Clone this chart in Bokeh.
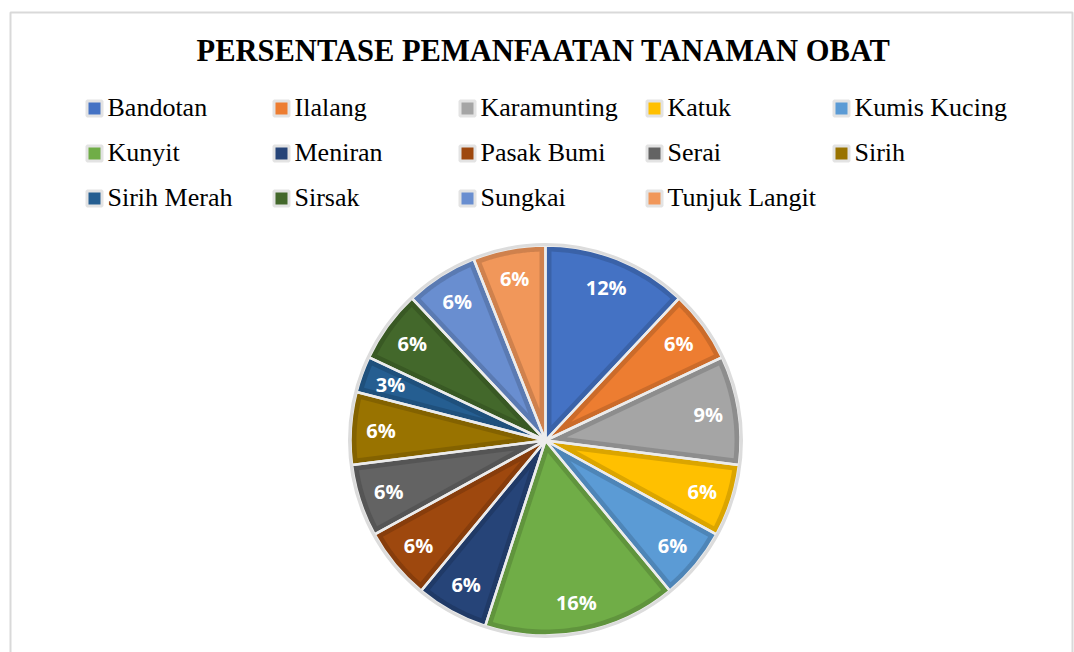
import math
from bokeh.plotting import figure
from bokeh.models import Range1d
from bokeh.core.properties import value
from bokeh.embed import file_html
from bokeh.resources import INLINE

# ---- data ----
categories = ["Bandotan", "Ilalang", "Karamunting", "Katuk", "Kumis Kucing",
              "Kunyit", "Meniran", "Pasak Bumi", "Serai", "Sirih",
              "Sirih Merah", "Sirsak", "Sungkai", "Tunjuk Langit"]
percents = [12, 6, 9, 6, 6, 16, 6, 6, 6, 6, 3, 6, 6, 6]
colors = ["#4472C4", "#ED7D31", "#A5A5A5", "#FFC000", "#5B9BD5", "#70AD47",
          "#264478", "#9E480E", "#636363", "#997300", "#255E91", "#43682B",
          "#698ED0", "#F1975A"]
title_text = "PERSENTASE PEMANFAATAN TANAMAN OBAT"

W, H = 1074, 652
p = figure(width=W, height=H, x_range=Range1d(0, W), y_range=Range1d(0, H),
           output_backend="svg", toolbar_location=None, min_border=0)
p.axis.visible = False
p.grid.visible = False
p.outline_line_color = None
p.background_fill_color = "white"
p.border_fill_color = "white"

def Y(s):
    return H - s

# chart border
p.quad(left=[10], right=[1072], top=[Y(12)], bottom=[-10], fill_color=None,
       line_color="#d9d9d9", line_width=2)

# title
p.text(x=[543], y=[Y(50)], text=[title_text], text_align="center",
       text_baseline="alphabetic", text_font=value("Liberation Serif"),
       text_font_style="bold", text_font_size="30.5px", text_color="#000000")

# legend (manual grid: 5 columns x 3 rows)
col_x = [85, 272, 458, 645, 832]
row_base = [116, 161, 206]
for i, (name, c) in enumerate(zip(categories, colors)):
    r, k = divmod(i, 5)
    mx = col_x[k] + 9
    p.scatter(x=[mx], y=[Y(row_base[r] - 8)], marker="square", size=15,
              fill_color=c, line_color="#e3e3e3", line_width=3)
    p.text(x=[col_x[k] + 22], y=[Y(row_base[r] - 9)], text=[name],
           text_align="left", text_baseline="alphabetic",
           text_font=value("Liberation Serif"), text_font_size="26px",
           text_color="#000000")

# pie
cx, cy, R = 545, Y(440), 195
total = float(sum(percents))

def darker(hexc, f=0.86):
    h = hexc.lstrip("#")
    rgb = [int(h[j:j + 2], 16) for j in (0, 2, 4)]
    return "#%02x%02x%02x" % tuple(int(v * f) for v in rgb)

starts, ends = [], []
cum = 0.0
for v in percents:
    starts.append(math.pi / 2 - 2 * math.pi * cum / total)
    cum += v
    ends.append(math.pi / 2 - 2 * math.pi * cum / total)

# dark base wedges (bevel band)
p.wedge(x=cx, y=cy, radius=R, start_angle=starts, end_angle=ends,
        direction="clock", fill_color=[darker(c) for c in colors],
        line_color=None)

# inset lighter patches
d = 6.0
xs, ys = [], []
for a0, a1 in zip(starts, ends):
    half = (a0 - a1) / 2
    mid = (a0 + a1) / 2
    apex = d / math.sin(half)
    px = [cx + apex * math.cos(mid)]
    py = [cy + apex * math.sin(mid)]
    rr = R - d
    da = math.asin(d / rr)
    lo, hi = a1 + da, a0 - da
    n = 40
    for j in range(n + 1):
        t = hi - (hi - lo) * j / n
        px.append(cx + rr * math.cos(t))
        py.append(cy + rr * math.sin(t))
    xs.append(px)
    ys.append(py)
p.patches(xs=xs, ys=ys, fill_color=colors, line_color=None)

# separators
p.wedge(x=cx, y=cy, radius=R, start_angle=starts, end_angle=ends,
        direction="clock", fill_color=None, line_color="#ececec",
        line_width=2.5)
p.circle(x=[cx], y=[cy], radius=R + 1, fill_color=None,
         line_color="#dcdcdc", line_width=3)

# data labels
lr = 0.845 * R
lx, ly = [], []
for a0, a1 in zip(starts, ends):
    mid = (a0 + a1) / 2
    lx.append(cx + lr * math.cos(mid))
    ly.append(cy + lr * math.sin(mid))
p.text(x=lx, y=ly, text=["%d%%" % v for v in percents], text_align="center",
       text_baseline="middle", text_font=value("Open Sans"),
       text_font_style="bold", text_font_size="20px", text_color="white")

open("out.html", "w").write(file_html(p, INLINE))
